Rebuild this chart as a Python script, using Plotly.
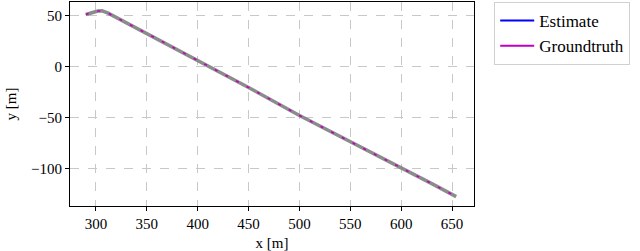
import plotly.graph_objects as go

# Trajectory
x_traj = [290, 294, 298, 302, 306, 309, 312, 330, 360, 400, 415, 450, 500, 550, 600, 630, 654]
y_traj = [51.2, 52.6, 53.8, 54.6, 54.8, 54.0, 52.5, 43.0, 27.3, 6.0, -1.5, -20.5, -48.0, -73.5, -99.0, -115.0, -127.8]

x_ticks = [300, 350, 400, 450, 500, 550, 600, 650]
y_ticks = [50, 0, -50, -100]

FONT = "'Liberation Serif', 'DejaVu Serif', serif"
FS = 15

fig = go.Figure()
fig.add_trace(go.Scatter(x=x_traj, y=y_traj, mode="lines", showlegend=False,
                         line=dict(color="rgba(128,128,128,0.9)", width=3.5), hoverinfo="skip"))
fig.add_trace(go.Scatter(x=x_traj, y=y_traj, mode="lines", name="Groundtruth", showlegend=False,
                         line=dict(color="#c000c0", width=1.6, dash="3px,9px")))
# legend entries
fig.add_trace(go.Scatter(x=[None], y=[None], mode="lines", name="Estimate",
                         line=dict(color="#0000ff", width=2)))
fig.add_trace(go.Scatter(x=[None], y=[None], mode="lines", name="Groundtruth",
                         line=dict(color="#c000c0", width=2)))

axis_common = dict(
    showline=True, linecolor="black", linewidth=1.2, mirror=True,
    ticks="outside", tickcolor="black", ticklen=4, tickwidth=1,
    showgrid=True, gridcolor="#c8c8c8", griddash="dash", gridwidth=1,
    zeroline=False, tickfont=dict(family=FONT, size=FS, color="black"),
    automargin=False,
)

fig.update_layout(
    width=640, height=251,
    margin=dict(l=70, r=166, t=2, b=45),
    plot_bgcolor="white", paper_bgcolor="white",
    font=dict(family=FONT, size=FS, color="black"),
    xaxis=dict(range=[274.5, 671.5], tickvals=x_ticks,
               title=dict(text="x [m]", standoff=6, font=dict(family=FONT, size=FS)),
               **axis_common),
    yaxis=dict(range=[-137, 63.5], tickvals=y_ticks,
               title=dict(text="y [m]", standoff=10, font=dict(family=FONT, size=FS)),
               **axis_common),
    legend=dict(x=1.05, y=1.0, xanchor="left", yanchor="top",
                bordercolor="#d0d0d0", borderwidth=1, bgcolor="white",
                font=dict(family=FONT, size=17), tracegroupgap=0, itemwidth=34),
    showlegend=True,
)

fig.write_html("out.html", config={"displayModeBar": False},
               post_script="document.body.style.margin='0';")
